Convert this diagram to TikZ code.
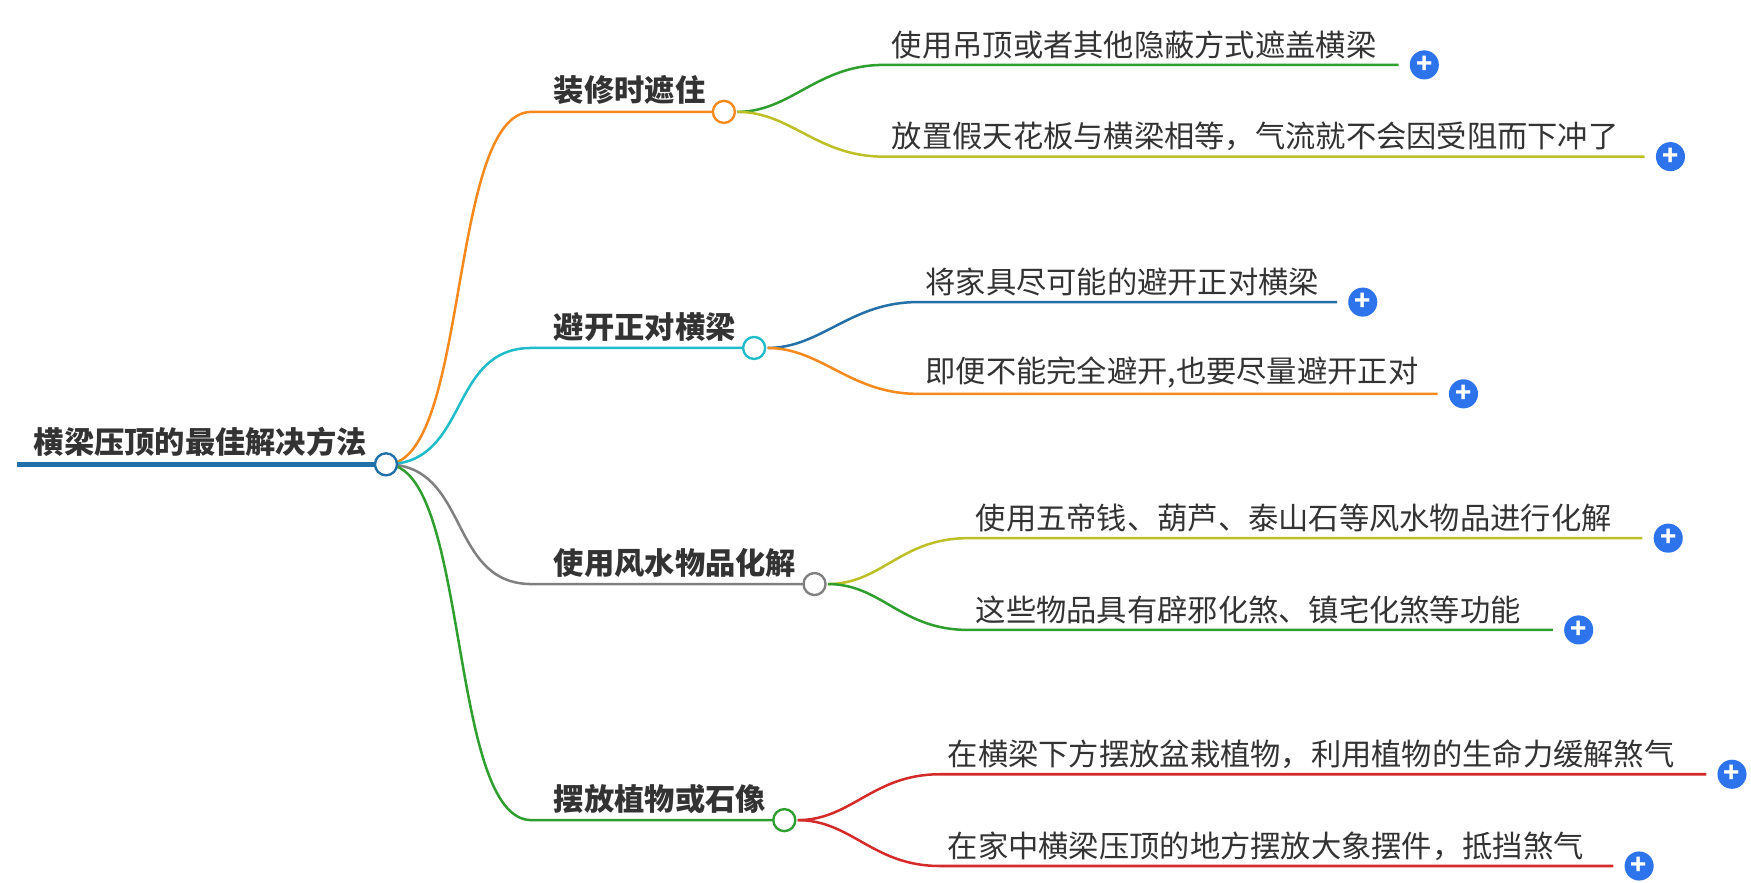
\documentclass[tikz,border=0pt]{standalone}
\usepackage{fontspec}
\setmainfont{Noto Sans CJK SC}
\begin{document}
\begin{tikzpicture}[x=0.05cm,y=-0.05cm,
  txt/.style={anchor=south west,inner sep=0pt,text=black!80,font=\fontsize{38.5}{42}\selectfont},
  btxt/.style={txt,font=\fontsize{38.5}{42}\selectfont\bfseries},
  ln/.style={line width=3.2pt},
  dot/.style={circle,draw,fill=white,line width=3pt,minimum size=28,inner sep=0pt},
  plus/.style={circle,minimum size=37,inner sep=0pt,text=white,font=\fontsize{34}{34}\selectfont\bfseries}]
\definecolor{cblue}{HTML}{1F6FA8}
\definecolor{corange}{HTML}{F5891E}
\definecolor{ccyan}{HTML}{20BCC9}
\definecolor{cgray}{HTML}{808080}
\definecolor{cgreen}{HTML}{2E9E2E}
\definecolor{colive}{HTML}{BDBF27}
\definecolor{cdblue}{HTML}{2670A8}
\definecolor{cred}{HTML}{D42A2A}
\definecolor{cplus}{HTML}{2D74EC}
\tikzset{plus/.append style={fill=cplus}}
\useasboundingbox (0,0) rectangle (1565,789);
% root
\draw[cblue,line width=6pt] (15,415) -- (335,415);
\node[btxt] (root) at (30,408) {横梁压顶的最佳解决方法};
\foreach \n/\y/\ex/\c/\t in {b1/100/647/corange/装修时遮住,b2/311/674/ccyan/避开正对横梁,b3/522/728/cgray/使用风水物品化解,b4/733/701/cgreen/摆放植物或石像}{
  \draw[ln,\c] (345,415) .. controls (420,415) and (400,\y) .. (475,\y) -- (\ex,\y);
  \node[btxt] at (495,\y-6) {\t};
}
\node[dot,draw=cblue] (r) at (345,415) {};
\foreach \px/\py/\y/\sx/\ex/\c/\t in {
 647/100/58/790/1250/cgreen/{使用吊顶或者其他隐蔽方式遮盖横梁},
 647/100/140/790/1470/colive/{放置假天花板与横梁相等，气流就不会因受阻而下冲了},
 674/311/270/820/1195/cdblue/{将家具尽可能的避开正对横梁},
 674/311/352/820/1285/corange/{即便不能完全避开,也要尽量避开正对},
 728/522/481/865/1468/colive/{使用五帝钱、葫芦、泰山石等风水物品进行化解},
 728/522/563/865/1388/cgreen/{这些物品具有辟邪化煞、镇宅化煞等功能},
 701/733/692/840/1525/cred/{在横梁下方摆放盆栽植物，利用植物的生命力缓解煞气},
 701/733/774/840/1442/cred/{在家中横梁压顶的地方摆放大象摆件，抵挡煞气}}{
  \draw[ln,\c] (\px+12,\py) .. controls (\px+60,\py) and (\sx-60,\y) .. (\sx,\y) -- (\ex,\y);
  \node[txt] at (\sx+7,\y-5) {\t};
  \node[plus] at (\ex+23,\y) {+};
}
\foreach \n/\ex/\y/\c in {b1/647/100/corange,b2/674/311/ccyan,b3/728/522/cgray,b4/701/733/cgreen}{
  \node[dot,draw=\c] (\n) at (\ex,\y) {};
}
\end{tikzpicture}
\end{document}
